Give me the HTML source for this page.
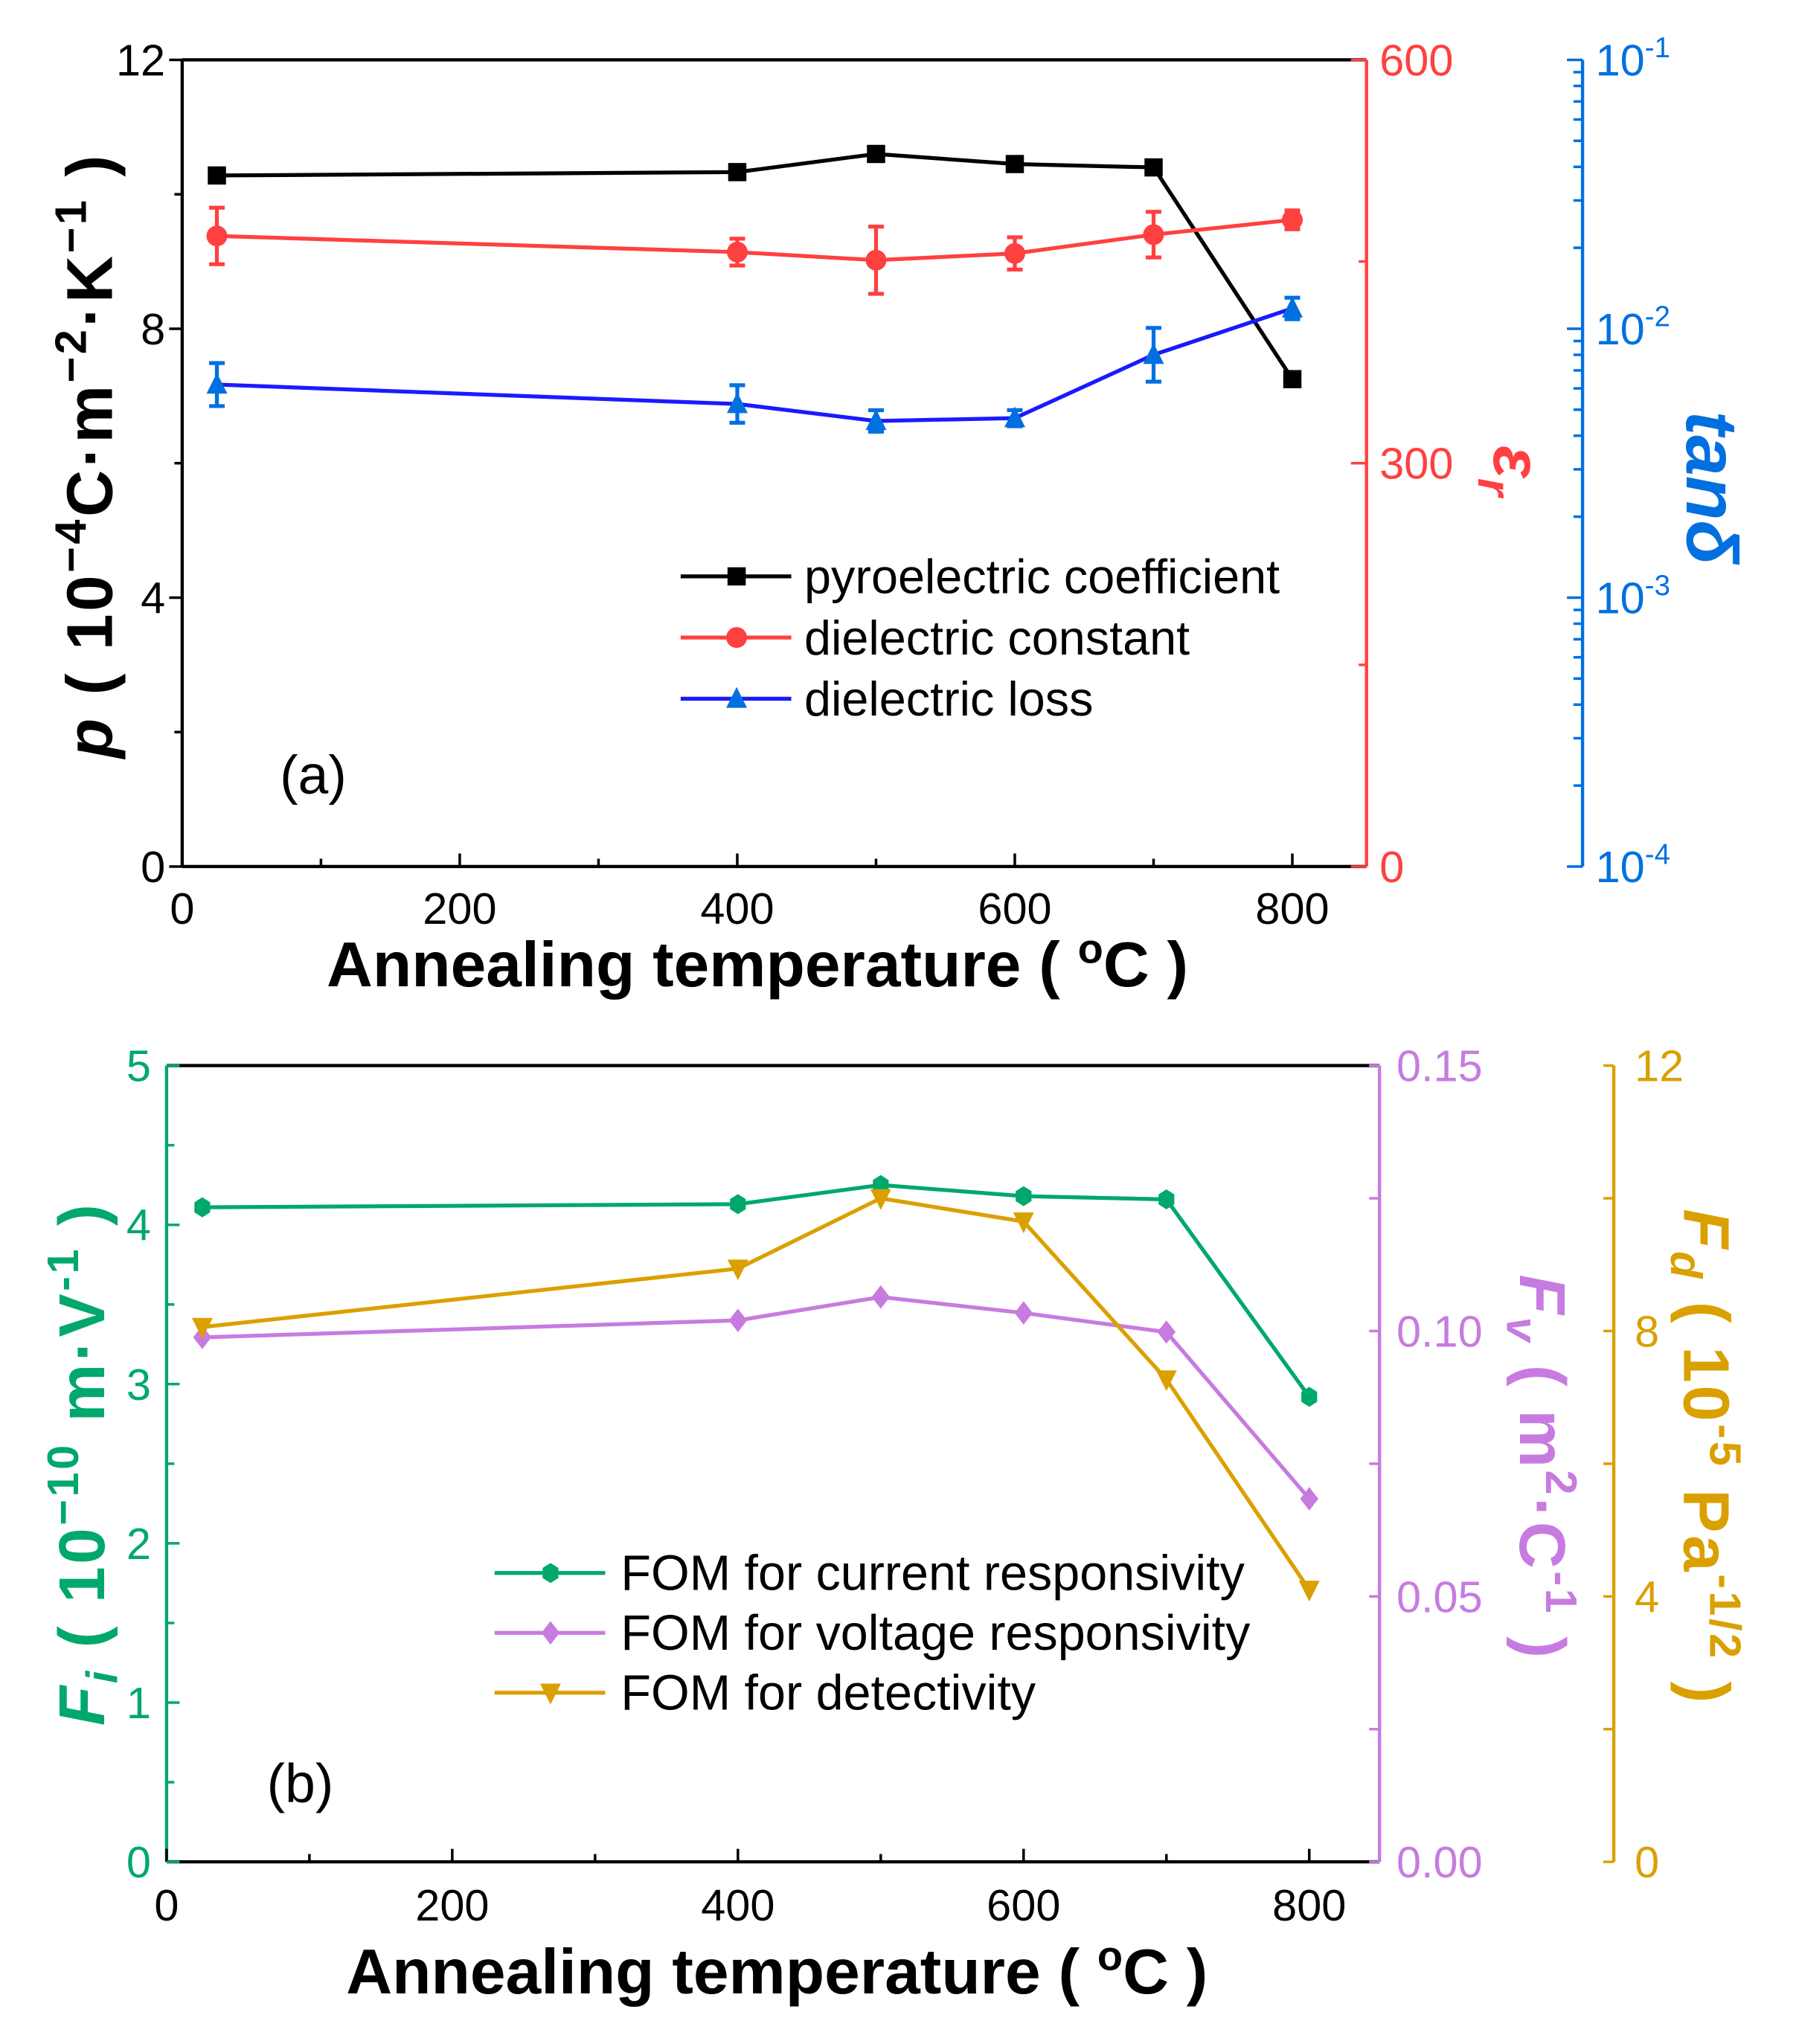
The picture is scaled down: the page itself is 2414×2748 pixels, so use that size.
<!DOCTYPE html>
<html><head><meta charset="utf-8"><style>
html,body{margin:0;padding:0;background:#fff;}
svg{display:block;}
text{font-family:"Liberation Sans",sans-serif;}
</style></head><body>
<svg id="fig" width="2414" height="2748" viewBox="0 0 1380 1571" preserveAspectRatio="none" xmlns="http://www.w3.org/2000/svg"></svg>
<script>
// ---------- data ----------
const temps = [25, 400, 500, 600, 700, 800];
const pyroCoef = [10.28, 10.33, 10.6, 10.45, 10.4, 7.25];
const pyroErr = [0.1, 0.1, 0.1, 0.1, 0.1, 0.1];
const dielConst = [469, 457, 451, 456, 470, 481];
const dielConstErr = [21, 10, 25, 12, 17, 7];
const dielLoss = [0.0062, 0.00525, 0.00454, 0.00465, 0.0080, 0.0119];
const dielLossErrDec = [0.08, 0.07, 0.04, 0.03, 0.10, 0.04];
const fomCurrent = [4.11, 4.13, 4.25, 4.18, 4.16, 2.92];
const fomVoltage = [0.0988, 0.102, 0.1064, 0.1034, 0.0998, 0.0684];
const fomDetect = [8.06, 8.94, 10.0, 9.65, 7.27, 4.1];
const xTicks = [0, 200, 400, 600, 800];
const pTicks = [0, 4, 8, 12];
const epsTicks = [0, 300, 600];
const tanTicks = [-4, -3, -2, -1];
const fiTicks = [0, 1, 2, 3, 4, 5];
const fvTicks = ["0.00", "0.05", "0.10", "0.15"];
const fdTicks = [0, 4, 8, 12];

const svg = document.getElementById('fig');
const NS = 'http://www.w3.org/2000/svg';
function mk(tag, attrs, parent, txt) {
  const e = document.createElementNS(NS, tag);
  for (const k in attrs) e.setAttribute(k, attrs[k]);
  if (txt !== undefined) e.textContent = txt;
  (parent || svg).appendChild(e);
  return e;
}
const BLACK = '#000', RED = '#ff4040', BLUE = '#0070e0', LBLUE = '#1a1aff',
      GREEN = '#00a86b', VIO = '#c77be0', GOLD = '#daa000';
const TF = 34;

// ---------- panel a ----------
const A = {l: 140, r: 1050, t: 46, b: 666, x0: 140, x800: 993};
const ax = v => A.x0 + (A.x800 - A.x0) * v / 800;
const ayP = v => A.b - (A.b - A.t) * v / 12;
const ayE = v => A.b - (A.b - A.t) * v / 600;
const ayT = v => A.b - (A.b - A.t) * (Math.log10(v) + 4) / 3;
const BAX = 1216;

let g = mk('g', {});


mk('line', {x1: A.l, y1: A.t, x2: A.r, y2: A.t, stroke: BLACK, 'stroke-width': 2.5}, g);
mk('line', {x1: A.l, y1: A.b, x2: A.r, y2: A.b, stroke: BLACK, 'stroke-width': 2.5}, g);
mk('line', {x1: A.l, y1: A.t, x2: A.l, y2: A.b, stroke: BLACK, 'stroke-width': 2.5}, g);
mk('line', {x1: A.r, y1: A.t, x2: A.r, y2: A.b, stroke: RED, 'stroke-width': 2.5}, g);
mk('line', {x1: BAX, y1: A.t, x2: BAX, y2: A.b, stroke: BLUE, 'stroke-width': 2.5}, g);
for (let v = 0; v <= 800; v += 100) {
  const len = v % 200 === 0 ? 10 : 6;
  mk('line', {x1: ax(v), y1: A.b, x2: ax(v), y2: A.b - len, stroke: BLACK, 'stroke-width': 2}, g);
}
xTicks.forEach(v => mk('text', {x: ax(v), y: 710, 'font-size': TF, 'text-anchor': 'middle'}, g, v));
for (let v = 0; v <= 12; v += 2) {
  const len = v % 4 === 0 ? 10 : 6;
  mk('line', {x1: A.l, y1: ayP(v), x2: A.l - len, y2: ayP(v), stroke: BLACK, 'stroke-width': 2}, g);
}
pTicks.forEach(v => mk('text', {x: 127, y: ayP(v) + 12, 'font-size': TF, 'text-anchor': 'end'}, g, v));
for (let v = 0; v <= 600; v += 150) {
  const len = v % 300 === 0 ? 12 : 6;
  mk('line', {x1: A.r, y1: ayE(v), x2: A.r - len, y2: ayE(v), stroke: RED, 'stroke-width': 2}, g);
}
epsTicks.forEach(v => mk('text', {x: 1060, y: ayE(v) + 12, 'font-size': TF, fill: RED}, g, v));
for (let d = -4; d < -1; d++) for (let m = 1; m <= 9; m++) {
  const y = ayT(m * Math.pow(10, d));
  mk('line', {x1: BAX, y1: y, x2: BAX - (m === 1 ? 12 : 7), y2: y, stroke: BLUE, 'stroke-width': 2}, g);
}
mk('line', {x1: BAX, y1: A.t, x2: BAX - 12, y2: A.t, stroke: BLUE, 'stroke-width': 2}, g);
tanTicks.forEach(d => {
  const t = mk('text', {x: 1226, y: ayT(Math.pow(10, d)) + 12, 'font-size': TF, fill: BLUE}, g, '10');
  mk('tspan', {dy: -14, 'font-size': 22}, t, '-' + (-d));
});
// axis titles
let t = mk('text', {transform: 'translate(86,350) rotate(-90)', 'font-size': 50, 'font-weight': 'bold', 'text-anchor': 'middle', 'letter-spacing': 2}, g);


mk('tspan', {'font-style': 'italic'}, t, 'p');
mk('tspan', {}, t, ' ( 10');
mk('tspan', {dy: -20, 'font-size': 34}, t, '−4');
mk('tspan', {dy: 20}, t, 'C·m');
mk('tspan', {dy: -20, 'font-size': 34}, t, '−2');
mk('tspan', {dy: 20}, t, '·K');
mk('tspan', {dy: -20, 'font-size': 34}, t, '−1');
mk('tspan', {dy: 20}, t, ' )');
t = mk('text', {transform: 'translate(1148,362) rotate(90)', 'font-size': 52, 'font-style': 'italic', 'font-weight': 'bold', fill: RED, 'text-anchor': 'middle', 'font-family': 'Liberation Serif, serif'}, g);


mk('tspan', {}, t, 'ε');
mk('tspan', {dy: 12, 'font-size': 36}, t, 'r');
t = mk('text', {transform: 'translate(1296,375) rotate(90)', 'font-size': 56, 'font-style': 'italic', 'font-weight': 'bold', fill: BLUE, 'text-anchor': 'middle', 'font-family': 'Liberation Serif, serif'}, g, 'tanδ');


t = mk('text', {x: 582, y: 758, 'font-size': 49, 'font-weight': 'bold', 'text-anchor': 'middle'}, g);


mk('tspan', {}, t, 'Annealing temperature ( ');
mk('tspan', {dy: -18, 'font-size': 32}, t, 'o');
mk('tspan', {dy: 18}, t, 'C )');
mk('text', {x: 215, y: 610, 'font-size': 42}, g, '(a)');

function marker(kind, x, y, color, parent, s) {
  s = s || 7;
  if (kind === 'square') return mk('rect', {x: x - s, y: y - s, width: 2 * s, height: 2 * s, fill: color}, parent);
  if (kind === 'circle') return mk('circle', {cx: x, cy: y, r: s + 1, fill: color}, parent);
  if (kind === 'tri') return mk('polygon', {points: `${x},${y - s - 2} ${x - s - 1},${y + s} ${x + s + 1},${y + s}`, fill: color}, parent);
  if (kind === 'itri') return mk('polygon', {points: `${x},${y + s + 2} ${x - s - 1},${y - s} ${x + s + 1},${y - s}`, fill: color}, parent);
  if (kind === 'diamond') return mk('polygon', {points: `${x},${y - s - 2} ${x + s},${y} ${x},${y + s + 2} ${x - s},${y}`, fill: color}, parent);
  if (kind === 'hex') {
    const pts = [];
    for (let i = 0; i < 6; i++) { const a = Math.PI / 3 * i + Math.PI / 6; pts.push((x + s * Math.cos(a)) + ',' + (y + s * Math.sin(a) * 1.1)); }
    return mk('polygon', {points: pts.join(' '), fill: color}, parent);
  }
}
function errbar(x, y1, y2, color, parent) {
  mk('line', {x1: x, y1: y1, x2: x, y2: y2, stroke: color, 'stroke-width': 3}, parent);
  mk('line', {x1: x - 6, y1: y1, x2: x + 6, y2: y1, stroke: color, 'stroke-width': 3}, parent);
  mk('line', {x1: x - 6, y1: y2, x2: x + 6, y2: y2, stroke: color, 'stroke-width': 3}, parent);
}
function series(name, xs, ys, xf, yf, lineColor, mColor, kind, errLo, errHi) {
  const sg = mk('g', {}, svg);
  
  
  mk('polyline', {points: xs.map((x, i) => xf(x) + ',' + yf(ys[i])).join(' '), fill: 'none', stroke: lineColor, 'stroke-width': 3}, sg);
  xs.forEach((x, i) => {
    if (errLo) errbar(xf(x), errLo(i), errHi(i), mColor, sg);
    const m = marker(kind, xf(x), yf(ys[i]), mColor, sg);
    
    
  });
}
series('series-pyroelectric', temps, pyroCoef, ax, ayP, BLACK, BLACK, 'square',
  i => ayP(pyroCoef[i] + pyroErr[i]), i => ayP(pyroCoef[i] - pyroErr[i]));
series('series-dielectric-constant', temps, dielConst, ax, ayE, RED, RED, 'circle',
  i => ayE(dielConst[i] + dielConstErr[i]), i => ayE(dielConst[i] - dielConstErr[i]));
series('series-dielectric-loss', temps, dielLoss, ax, ayT, LBLUE, BLUE, 'tri',
  i => ayT(dielLoss[i] * Math.pow(10, dielLossErrDec[i])), i => ayT(dielLoss[i] / Math.pow(10, dielLossErrDec[i])));

function legend(items, lx, ly, step, tx, fs) {
  const lg = mk('g', {});
  
  
  items.forEach((it, i) => {
    const y = ly + i * step;
    const e = mk('g', {}, lg);
    
    
    mk('line', {x1: lx, y1: y, x2: lx + 85, y2: y, stroke: it[1], 'stroke-width': 3}, e);
    marker(it[3], lx + 43, y, it[2], e);
    mk('text', {x: tx, y: y + 13, 'font-size': fs}, e, it[0]);
  });
}
legend([['pyroelectric coefficient', BLACK, BLACK, 'square'], ['dielectric constant', RED, RED, 'circle'], ['dielectric loss', LBLUE, BLUE, 'tri']], 523, 443, 47, 618, 37);

// ---------- panel b ----------
const B = {l: 128, r: 1060, t: 819, b: 1431, x0: 128, x800: 1006};
const bx = v => B.x0 + (B.x800 - B.x0) * v / 800;
const byI = v => B.b - (B.b - B.t) * v / 5;
const byV = v => B.b - (B.b - B.t) * v / 0.15;
const byD = v => B.b - (B.b - B.t) * v / 12;
const GAX = 1240;
g = mk('g', {});


mk('line', {x1: B.l, y1: B.t, x2: B.r, y2: B.t, stroke: BLACK, 'stroke-width': 2.5}, g);
mk('line', {x1: B.l, y1: B.b, x2: B.r, y2: B.b, stroke: BLACK, 'stroke-width': 2.5}, g);
mk('line', {x1: B.l, y1: B.t, x2: B.l, y2: B.b, stroke: GREEN, 'stroke-width': 2.5}, g);
mk('line', {x1: B.r, y1: B.t, x2: B.r, y2: B.b, stroke: VIO, 'stroke-width': 2.5}, g);
mk('line', {x1: GAX, y1: B.t, x2: GAX, y2: B.b, stroke: GOLD, 'stroke-width': 2.5}, g);
for (let v = 0; v <= 800; v += 100) {
  const len = v % 200 === 0 ? 10 : 6;
  mk('line', {x1: bx(v), y1: B.b, x2: bx(v), y2: B.b - len, stroke: BLACK, 'stroke-width': 2}, g);
}
xTicks.forEach(v => mk('text', {x: bx(v), y: 1476, 'font-size': TF, 'text-anchor': 'middle'}, g, v));
for (let v = 0; v <= 5; v += 0.5) {
  const len = v % 1 === 0 ? 10 : 6;
  mk('line', {x1: B.l, y1: byI(v), x2: B.l + len, y2: byI(v), stroke: GREEN, 'stroke-width': 2}, g);
}
fiTicks.forEach(v => mk('text', {x: 116, y: byI(v) + 12, 'font-size': TF, fill: GREEN, 'text-anchor': 'end'}, g, v));
for (let v = 0; v <= 0.15001; v += 0.025) {
  mk('line', {x1: B.r, y1: byV(v), x2: B.r - 8, y2: byV(v), stroke: VIO, 'stroke-width': 2}, g);
}
fvTicks.forEach(v => mk('text', {x: 1073, y: byV(+v) + 12, 'font-size': TF, fill: VIO}, g, v));
for (let v = 0; v <= 12; v += 2) {
  mk('line', {x1: GAX, y1: byD(v), x2: GAX - 8, y2: byD(v), stroke: GOLD, 'stroke-width': 2}, g);
}
fdTicks.forEach(v => mk('text', {x: 1256, y: byD(v) + 12, 'font-size': TF, fill: GOLD}, g, v));

t = mk('text', {transform: 'translate(80,1125) rotate(-90)', 'font-size': 50, 'font-weight': 'bold', fill: GREEN, 'text-anchor': 'middle', 'letter-spacing': 2}, g);


mk('tspan', {'font-style': 'italic'}, t, 'F');
mk('tspan', {dy: 10, 'font-size': 34, 'font-style': 'italic'}, t, 'i');
mk('tspan', {dy: -10}, t, ' ( 10');
mk('tspan', {dy: -20, 'font-size': 34}, t, '−10');
mk('tspan', {dy: 20}, t, ' m·V');
mk('tspan', {dy: -20, 'font-size': 34}, t, '-1');
mk('tspan', {dy: 20}, t, ' )');
t = mk('text', {transform: 'translate(1168,1128) rotate(90)', 'font-size': 50, 'font-weight': 'bold', fill: VIO, 'text-anchor': 'middle', 'letter-spacing': 2}, g);


mk('tspan', {'font-style': 'italic'}, t, 'F');
mk('tspan', {dy: 10, 'font-size': 34, 'font-style': 'italic'}, t, 'v');
mk('tspan', {dy: -10}, t, ' ( m');
mk('tspan', {dy: -20, 'font-size': 34}, t, '2');
mk('tspan', {dy: 20}, t, '·C');
mk('tspan', {dy: -20, 'font-size': 34}, t, '-1');
mk('tspan', {dy: 20}, t, ' )');
t = mk('text', {transform: 'translate(1294,1120) rotate(90)', 'font-size': 50, 'font-weight': 'bold', fill: GOLD, 'text-anchor': 'middle', 'letter-spacing': 2}, g);


mk('tspan', {'font-style': 'italic'}, t, 'F');
mk('tspan', {dy: 10, 'font-size': 34, 'font-style': 'italic'}, t, 'd');
mk('tspan', {dy: -10}, t, ' ( 10');
mk('tspan', {dy: -20, 'font-size': 34}, t, '-5');
mk('tspan', {dy: 20}, t, ' Pa');
mk('tspan', {dy: -20, 'font-size': 34}, t, '-1/2');
mk('tspan', {dy: 20}, t, ' )');
t = mk('text', {x: 597, y: 1532, 'font-size': 49, 'font-weight': 'bold', 'text-anchor': 'middle'}, g);


mk('tspan', {}, t, 'Annealing temperature ( ');
mk('tspan', {dy: -18, 'font-size': 32}, t, 'o');
mk('tspan', {dy: 18}, t, 'C )');
mk('text', {x: 205, y: 1385, 'font-size': 42}, g, '(b)');

series('series-fom-current', temps, fomCurrent, bx, byI, GREEN, GREEN, 'hex');
series('series-fom-voltage', temps, fomVoltage, bx, byV, VIO, VIO, 'diamond');
series('series-fom-detectivity', temps, fomDetect, bx, byD, GOLD, GOLD, 'itri');
legend([['FOM for current responsivity', GREEN, GREEN, 'hex'], ['FOM for voltage responsivity', VIO, VIO, 'diamond'], ['FOM for detectivity', GOLD, GOLD, 'itri']], 380, 1209, 46, 477, 38);
</script>
</body></html>
